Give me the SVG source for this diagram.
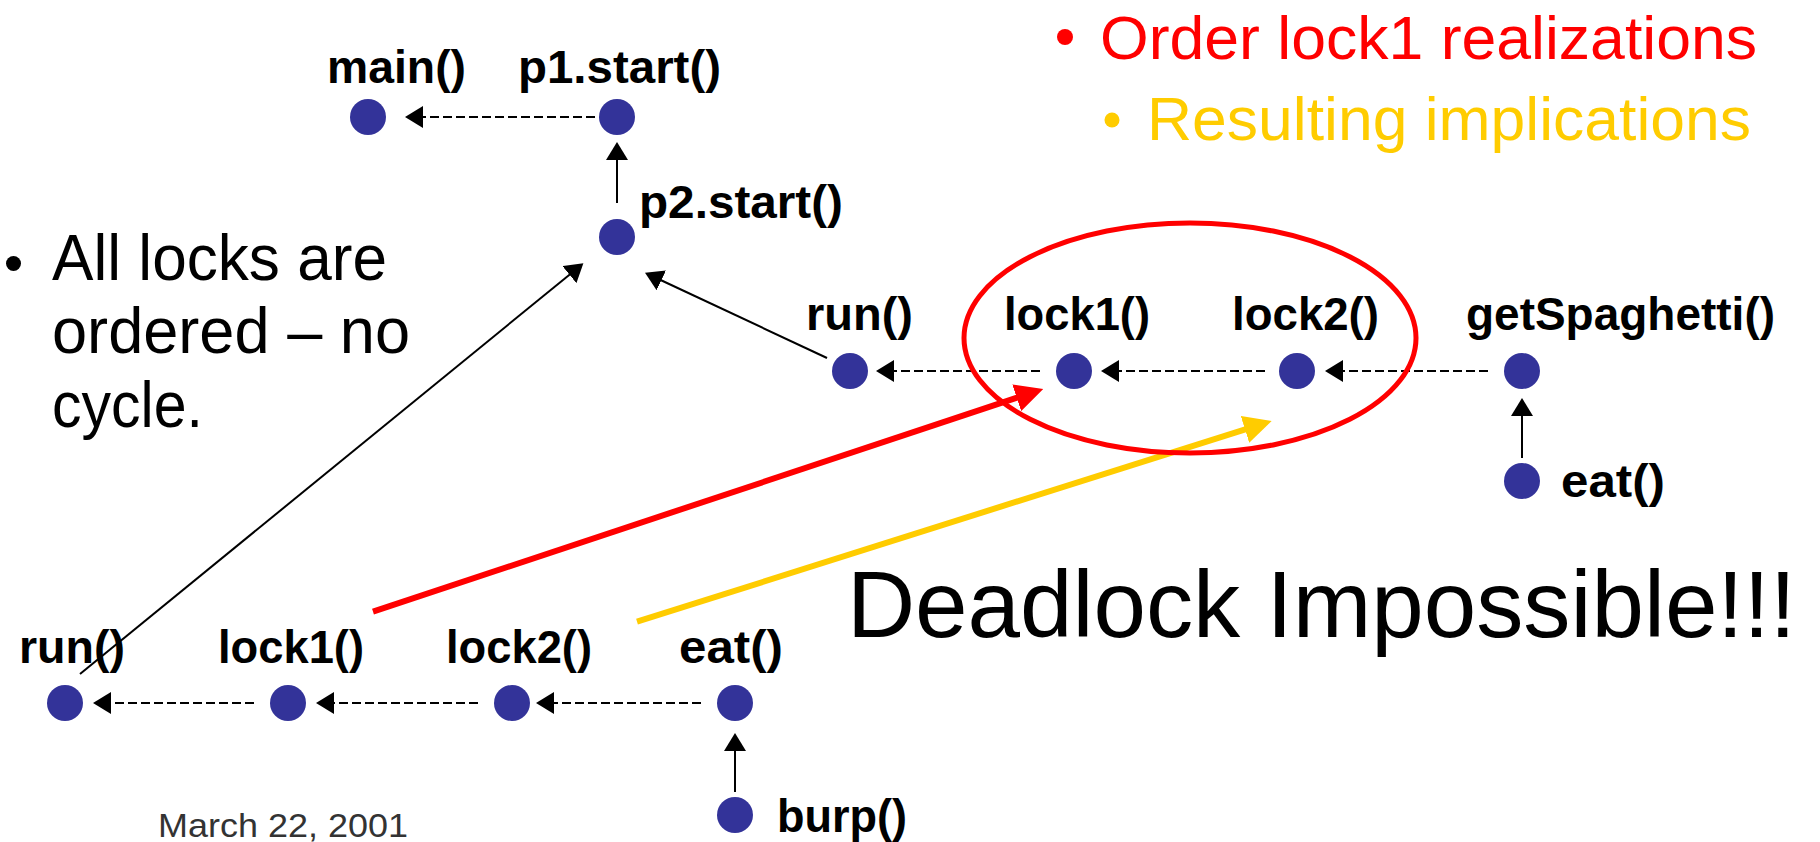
<svg xmlns="http://www.w3.org/2000/svg" width="1820" height="842" viewBox="0 0 1820 842">
<style>
.n{fill:#333399}
.lb{font-family:"Liberation Sans",Arial,sans-serif;font-weight:bold;font-size:46px;fill:#000}
.big{font-family:"Liberation Sans",Arial,sans-serif;fill:#000}
.d{stroke:#000;stroke-width:2;stroke-dasharray:9 4;fill:none}
.s{stroke:#000;stroke-width:2;fill:none}
</style>
<defs>
<marker id="ab" viewBox="0 0 18 22" refX="2" refY="11" markerWidth="18" markerHeight="22" markerUnits="userSpaceOnUse" orient="auto">
<path d="M0,0 L18,11 L0,22 z" fill="#000"/>
</marker>
<marker id="ar" viewBox="0 0 28 28" refX="2" refY="14" markerWidth="28" markerHeight="28" markerUnits="userSpaceOnUse" orient="auto">
<path d="M0,0 L28,14 L0,28 z" fill="#FF0000"/>
</marker>
<marker id="ay" viewBox="0 0 28 28" refX="2" refY="14" markerWidth="28" markerHeight="28" markerUnits="userSpaceOnUse" orient="auto">
<path d="M0,0 L28,14 L0,28 z" fill="#FFCC00"/>
</marker>
</defs>
<rect width="1820" height="842" fill="#fff"/>

<g id="connectors">
<line class="d" x1="595" y1="117" x2="421" y2="117" marker-end="url(#ab)"/>
<line class="s" x1="617" y1="203" x2="617" y2="158" marker-end="url(#ab)"/>
<line class="d" x1="1040" y1="371" x2="892" y2="371" marker-end="url(#ab)"/>
<line class="d" x1="1265" y1="371" x2="1117" y2="371" marker-end="url(#ab)"/>
<line class="d" x1="1488" y1="371" x2="1341" y2="371" marker-end="url(#ab)"/>
<line class="s" x1="1522" y1="458" x2="1522" y2="414" marker-end="url(#ab)"/>
<line class="d" x1="254" y1="703" x2="109" y2="703" marker-end="url(#ab)"/>
<line class="d" x1="478" y1="703" x2="332" y2="703" marker-end="url(#ab)"/>
<line class="d" x1="701" y1="703" x2="552" y2="703" marker-end="url(#ab)"/>
<line class="s" x1="735" y1="792" x2="735" y2="749" marker-end="url(#ab)"/>
<line class="s" x1="80" y1="674" x2="571" y2="273.4" marker-end="url(#ab)"/>
<line class="s" x1="827" y1="358" x2="659.5" y2="279.5" marker-end="url(#ab)"/>
<line x1="373" y1="611.7" x2="1018.6" y2="397.2" stroke="#FF0000" stroke-width="6" marker-end="url(#ar)"/>
<line x1="637" y1="621.7" x2="1246.9" y2="428.8" stroke="#FFCC00" stroke-width="6" marker-end="url(#ay)"/>
<ellipse cx="1190" cy="338" rx="226" ry="115" fill="none" stroke="#FF0000" stroke-width="5"/>
</g>

<g id="n-main"><circle class="n" cx="368" cy="117" r="18"/><text class="lb" x="327" y="83" textLength="139" lengthAdjust="spacingAndGlyphs">main()</text></g>
<g id="n-p1start"><circle class="n" cx="617" cy="117" r="18"/><text class="lb" x="518" y="83" textLength="203" lengthAdjust="spacingAndGlyphs">p1.start()</text></g>
<g id="n-p2start"><circle class="n" cx="617" cy="237" r="18"/><text class="lb" x="639" y="218" textLength="204" lengthAdjust="spacingAndGlyphs">p2.start()</text></g>
<g id="n-run1"><circle class="n" cx="850" cy="371" r="18"/><text class="lb" x="806" y="330" textLength="107" lengthAdjust="spacingAndGlyphs">run()</text></g>
<g id="n-lock1a"><circle class="n" cx="1074" cy="371" r="18"/><text class="lb" x="1004" y="330" textLength="146" lengthAdjust="spacingAndGlyphs">lock1()</text></g>
<g id="n-lock2a"><circle class="n" cx="1297" cy="371" r="18"/><text class="lb" x="1232" y="330" textLength="147" lengthAdjust="spacingAndGlyphs">lock2()</text></g>
<g id="n-getspaghetti"><circle class="n" cx="1522" cy="371" r="18"/><text class="lb" x="1466" y="330" textLength="309" lengthAdjust="spacingAndGlyphs">getSpaghetti()</text></g>
<g id="n-eat1"><circle class="n" cx="1522" cy="481" r="18"/><text class="lb" x="1561" y="497" textLength="104" lengthAdjust="spacingAndGlyphs">eat()</text></g>
<g id="n-run2"><circle class="n" cx="65" cy="703" r="18"/><text class="lb" x="19" y="663" textLength="106" lengthAdjust="spacingAndGlyphs">run()</text></g>
<g id="n-lock1b"><circle class="n" cx="288" cy="703" r="18"/><text class="lb" x="218" y="663" textLength="146" lengthAdjust="spacingAndGlyphs">lock1()</text></g>
<g id="n-lock2b"><circle class="n" cx="512" cy="703" r="18"/><text class="lb" x="446" y="663" textLength="146" lengthAdjust="spacingAndGlyphs">lock2()</text></g>
<g id="n-eat2"><circle class="n" cx="735" cy="703" r="18"/><text class="lb" x="679" y="663" textLength="104" lengthAdjust="spacingAndGlyphs">eat()</text></g>
<g id="n-burp"><circle class="n" cx="735" cy="815" r="18"/><text class="lb" x="777" y="832" textLength="130" lengthAdjust="spacingAndGlyphs">burp()</text></g>

<g id="legend">
<circle cx="1065" cy="37" r="8" fill="#FF0000"/>
<text class="big" x="1100" y="59" font-size="62" style="fill:#FF0000" textLength="657" lengthAdjust="spacingAndGlyphs">Order lock1 realizations</text>
<circle cx="1112" cy="120" r="7.5" fill="#FFCC00"/>
<text class="big" x="1147" y="140" font-size="62" style="fill:#FFCC00" textLength="604" lengthAdjust="spacingAndGlyphs">Resulting implications</text>
</g>

<g id="note">
<circle cx="13.5" cy="263.5" r="7.5" fill="#000"/>
<text class="big" x="52" y="280" font-size="64" textLength="335" lengthAdjust="spacingAndGlyphs">All locks are</text>
<text class="big" x="52" y="353" font-size="64" textLength="358" lengthAdjust="spacingAndGlyphs">ordered – no</text>
<text class="big" x="52" y="427" font-size="64" textLength="151" lengthAdjust="spacingAndGlyphs">cycle.</text>
</g>

<text class="big" x="847" y="637" font-size="94" textLength="949" lengthAdjust="spacingAndGlyphs">Deadlock Impossible!!!</text>
<text class="big" x="158" y="837" font-size="33" style="fill:#333" textLength="250" lengthAdjust="spacingAndGlyphs">March 22, 2001</text>
</svg>
